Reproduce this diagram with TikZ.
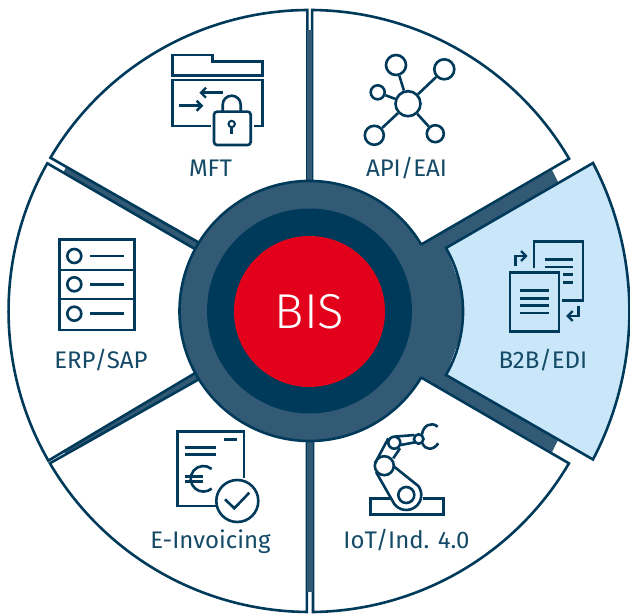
\documentclass[tikz,border=0pt]{standalone}
\usepackage{fontspec}
\setmainfont{Fira Sans}
\newfontfamily\bisfont{Fira Sans Light}
\usetikzlibrary{arrows.meta}
\definecolor{navy}{HTML}{003A5A}
\definecolor{hubblue}{HTML}{335A75}
\definecolor{skyblue}{HTML}{C9E7F8}
\definecolor{bisred}{HTML}{E2001A}
\tikzstyle{sector} = [draw=navy, fill=white, line width=2.6pt]
\tikzstyle{band} = [fill=hubblue]
\tikzstyle{icon} = [draw=navy, line width=2.6pt]
\tikzstyle{tip} = [-{Straight Barb[length=5pt,width=10pt,line width=2.4pt]}]
\tikzstyle{label} = [text=navy!92!white, font=\fontsize{24}{28}\selectfont, inner sep=0pt, anchor=base]
\tikzstyle{blob} = [circle, draw=navy, line width=2.6pt, inner sep=0pt]

\begin{document}
\begin{tikzpicture}[x=1pt,y=-1pt]
                \useasboundingbox (0,0) rectangle (630,615);

                % bands in the gaps
                \fill [band] (66,167) -- (210,249) -- (207,256) -- (63,173) -- cycle;
                \fill [band] (63,449) -- (207,366) -- (210,373) -- (66,455) -- cycle;
                \fill [band] (421,245) -- (552,170) -- (558,182) -- (446,248) -- (470,311)
                    -- (446,375) -- (558,440) -- (552,452) -- (421,377) -- cycle;

                % sectors
                \draw [sector] (307.4,10) arc [start angle=90.4, end angle=149.4, radius=301pt]
                    -- (210,249) -- (307.4,250) -- cycle;
                \draw [sector] (312.1,10) arc [start angle=89.5, end angle=30.4, radius=301pt]
                    -- (410,251) -- (312.1,250) -- cycle;
                \draw [sector] (47.3,163.3) arc [start angle=150.6, end angle=209.8, radius=301pt]
                    -- (207,366) -- (207,256) -- cycle;
                \draw [sector] (49.9,463.3) arc [start angle=210.4, end angle=269.5, radius=301pt]
                    -- (306.9,372) -- (210,373) -- cycle;
                \draw [sector] (313,612) arc [start angle=270.7, end angle=329.6, radius=301pt]
                    -- (410,371) -- (313,372) -- cycle;

                % band fills sit on top of the sector fills
                \fill [band] (307.4,30) rectangle (312.1,200);
                \fill [band] (306.9,420) rectangle (313,592);
                \draw [sector, fill=skyblue] (446,248) -- (593,163)
                    arc [start angle=27.6, end angle=-27.6, radius=320pt]
                    -- (446,375) arc [start angle=-30, end angle=30, radius=127pt] -- cycle;

                % hub
                \fill [hubblue] (309.5,311) circle [radius=130pt];
                \draw [navy, line width=2.6pt] (421.4,244.8)
                    arc [start angle=30.6, end angle=329.4, radius=130pt];
                \fill [navy] (309.5,311) circle [radius=102.5pt];
                \node (bis) [circle, fill=bisred, minimum size=151pt, inner sep=0pt, text=white,
                    font=\bisfont\fontsize{49}{52}\selectfont] at (309.5,311.5) {BIS};

                % MFT
                \draw [icon] (172.7,55) -- (212.7,55) -- (212.7,61.7) -- (262.7,61.7)
                    -- (262.7,75.3) -- (172.7,75.3) -- cycle;
                \draw [icon] (210.7,126) -- (172.7,126) -- (172.7,80) -- (262.7,80)
                    -- (262.7,126) -- (254,126);
                \draw [icon, tip] (222.7,92.7) -- (199.3,92.7);
                \draw [icon, tip] (179.3,105.7) -- (203.3,105.7);
                \draw [icon, rounded corners=3pt] (214,111.7) rectangle (250.7,145);
                \draw [icon] (222.7,111.7) -- (222.7,104.7)
                    arc [start angle=180, end angle=0, radius=9pt] -- (240.7,111.7);
                \draw [icon, line width=2pt] (231.7,124) circle [radius=3.2pt];
                \draw [icon, line width=3pt] (231.7,127) -- (231.7,134.5);
                \node (mft) [label] at (210.5,176.7) {MFT};

                % API/EAI
                \node (a0) [blob, minimum size=25pt] at (408,103.7) {};
                \node (a1) [blob, minimum size=20pt] at (396,65) {};
                \node (a2) [blob, minimum size=20pt] at (444.3,69.3) {};
                \node (a3) [blob, minimum size=14pt] at (377.7,92.3) {};
                \node (a4) [blob, minimum size=19pt] at (374.3,135.3) {};
                \node (a5) [blob, minimum size=17pt] at (435.3,133.7) {};
                \draw [icon] (a0) -- (a1);
                \draw [icon] (a0) -- (a2);
                \draw [icon] (a0) -- (a3);
                \draw [icon] (a0) -- (a4);
                \draw [icon] (a0) -- (a5);
                \node (api) [label] at (406.5,176.7) {API/EAI};

                % B2B/EDI
                \draw [icon] (534,268.3) -- (534,241.7) -- (583,241.7) -- (583,300.7) -- (562.3,300.7);
                \draw [icon] (544.7,259.3) -- (572.7,259.3);
                \draw [icon] (544.7,267) -- (572.7,267);
                \draw [icon] (563.3,274.7) -- (572.7,274.7);
                \draw [icon] (563.3,282.3) -- (572.7,282.3);
                \draw [icon] (510,272.3) rectangle (559,331.7);
                \draw [icon] (520.3,290.7) -- (548.7,290.7);
                \draw [icon] (520.3,298.3) -- (548.7,298.3);
                \draw [icon] (520.3,305.3) -- (548.7,305.3);
                \draw [icon] (520.3,313) -- (548.7,313);
                \draw [icon, tip] (515.3,265.7) -- (515.3,256) -- (527.7,256);
                \draw [icon, tip] (578.3,306) -- (578.3,316) -- (566,316);
                \node (b2b) [label] at (543,368) {B2B/EDI};

                % IoT/Ind. 4.0
                \draw [icon] (390.7,498.7) -- (370.7,498.7) -- (370.7,514.3) -- (443.7,514.3)
                    -- (443.7,498.7) -- (423.3,498.7);
                \node (i0) [blob, minimum size=16pt] at (406.3,495) {};
                \node (i1) [blob, minimum size=19pt] at (384.3,465.7) {};
                \node (i2) [blob, minimum size=12pt] at (394.3,442.7) {};
                \node (i3) [blob, minimum size=9.5pt] at (418.7,439) {};
                \draw [icon] (376,472) -- (394.3,504) arc [start angle=217, end angle=396.9, radius=15pt]
                    -- (393.3,466);
                \draw [icon] (375,463.3) -- (388.3,438.3);
                \draw [icon] (393.3,458.3) -- (400,448.3);
                \draw [icon] (394.3,436.7) -- (414.3,435);
                \draw [icon] (400.7,445) -- (415,442.3);
                \draw [icon] (422,434.3) .. controls (423,426) and (431,421) .. (437.7,426.7);
                \draw [icon] (422.5,443.3) .. controls (425,450) and (433,451) .. (438.3,443.3);
                \node (iot) [label] at (406.5,548) {IoT/Ind. 4.0};

                % E-Invoicing
                \draw [icon] (216.7,506) -- (177.3,506) -- (177.3,431.7) -- (244,431.7) -- (244,478.3);
                \draw [icon] (224,439.3) -- (236.7,439.3);
                \draw [icon] (185,447.3) -- (216,447.3);
                \draw [icon] (185,454.7) -- (216,454.7);
                \draw [icon] (211.7,469) arc [start angle=50, end angle=310, radius=12.8pt];
                \draw [icon] (185,476.7) -- (203.3,476.7);
                \draw [icon] (185,481.7) -- (203.3,481.7);
                \node (check) [blob, minimum size=42pt] at (237.3,501) {};
                \draw [icon] (225,499.3) -- (234.3,508.3) -- (249.3,492.7);
                \node (einv) [label] at (210.5,548) {E-Invoicing};

                % ERP/SAP
                \draw [icon] (59.3,239.3) rectangle (134.3,330);
                \draw [icon] (59.3,270) -- (134.3,270);
                \draw [icon] (59.3,299) -- (134.3,299);
                \node (e1) [blob, minimum size=14pt] at (74.3,256) {};
                \node (e2) [blob, minimum size=14pt] at (74.3,284.3) {};
                \node (e3) [blob, minimum size=14pt] at (74.3,313.7) {};
                \draw [icon] (90,256) -- (124.3,256);
                \draw [icon] (90,284.3) -- (124.3,284.3);
                \draw [icon] (90,313.7) -- (124.3,313.7);
                \node (erp) [label] at (101,368) {ERP/SAP};
            \end{tikzpicture}
\end{document}
